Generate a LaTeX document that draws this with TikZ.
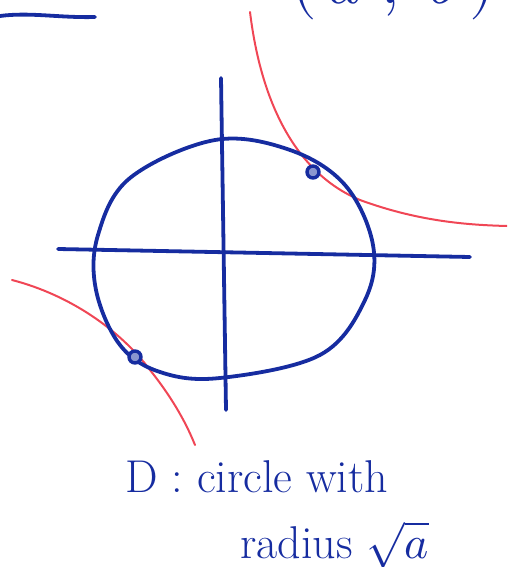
\documentclass[tikz,border=0pt]{standalone}
\usepackage{fontspec}
\usepackage{unicode-math}
\usepackage{xcolor}
\usepackage{tikz}
\usetikzlibrary{positioning}
\definecolor{penblue}{RGB}{22,44,160}
\definecolor{penred}{RGB}{240,70,85}
\tikzset{
  bluepen/.style={
    draw=penblue,
    line width=3.8pt,
    line cap=round,
    line join=round
  },
  redpen/.style={
    draw=penred,
    line width=2pt,
    line cap=round
  },
  touchdot/.style={
    circle,
    draw=penblue,
    line width=3.4pt,
    fill=penblue!50!white,
    minimum size=12pt,
    inner sep=0pt
  },
  notetext/.style={
    text=penblue,
    font=\fontsize{46}{50}\selectfont,
    inner sep=0pt
  }
}
\begin{document}
\begin{tikzpicture}[x=1pt,y=-1pt]
\useasboundingbox (0,0) rectangle (507,567);
\clip (0,0) rectangle (507,567);
% top scraps
\draw[bluepen] (0,16) .. controls (30,12) and (60,18) .. (95,17);
\node[notetext, font=\fontsize{66}{70}\selectfont, anchor=base] (pt) at (393,4) {$(\,a\;,\;b\,)$};
% hyperbola branches
\draw[redpen] (250,12) .. controls (262,110) and (300,175) .. (360,200)
  .. controls (420,222) and (470,225) .. (507,226);
\draw[redpen] (12,280) .. controls (70,295) and (120,330) .. (150,370)
  .. controls (170,395) and (185,420) .. (195,445);
% axes
\draw[bluepen] (221,78) -- (226,410);
\draw[bluepen] (58,249) -- (470,257);
% the disk boundary
\draw[bluepen] plot[smooth cycle, tension=0.6] coordinates {
  (215,140) (290,150) (345,185) (373,245) (365,300) (320,355)
  (220,378) (160,372) (120,345) (96,290) (98,235) (130,178)};
% points of contact
\node[touchdot] (p1) at (313,172) {};
\node[touchdot] (p2) at (135,357) {};
% caption
\node[notetext, anchor=base west] (cap1) at (125,492) {D : circle with};
\node[notetext, anchor=base west] (cap2) at (240,558) {radius $\smash{\sqrt{a}}$};
\end{tikzpicture}
\end{document}
